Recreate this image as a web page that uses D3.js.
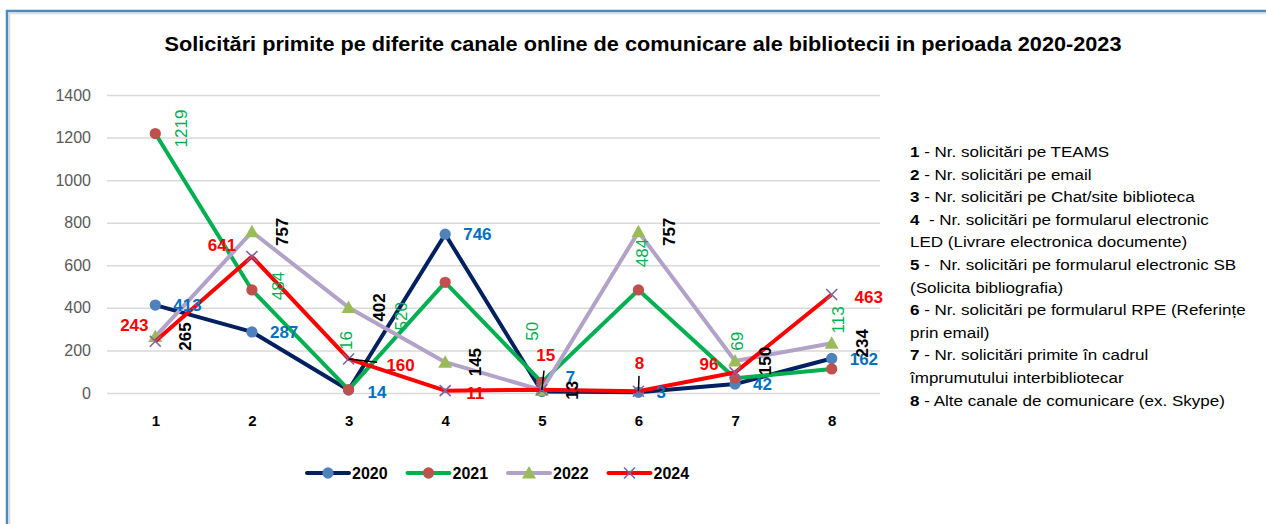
<!DOCTYPE html>
<html>
<head>
<meta charset="utf-8">
<script src="https://cdn.jsdelivr.net/npm/d3@7"></script>
<style>
  body { margin: 0; background: #fff; }
  svg { display: block; }
  text { font-family: 'Liberation Sans', Arial, sans-serif; }
</style>
</head>
<body>
<svg id="chart"></svg>
<script>
// chart data
var categories = ['1', '2', '3', '4', '5', '6', '7', '8'];
var years = ['2020', '2021', '2022', '2024'];
var v2020 = [413, 287, 14, 746, 7, 3, 42, 162];
var v2021 = [1219, 484, 16, 520, 50, 484, 69, 113];
var v2022 = [265, 757, 402, 145, 13, 757, 150, 234];
var v2024 = [243, 641, 160, 11, 15, 8, 96, 463];
var yTicks = [0, 200, 400, 600, 800, 1000, 1200, 1400];

var title = 'Solicitări primite pe diferite canale online de comunicare ale bibliotecii in perioada 2020-2023';
var noteNums = ['1', '2', '3', '4', '', '5', '', '6', '', '7', '', '8'];
var noteTexts = [
  ' - Nr. solicitări pe TEAMS',
  ' - Nr. solicitări pe email',
  ' - Nr. solicitări pe Chat/site biblioteca',
  '  - Nr. solicitări pe formularul electronic',
  'LED (Livrare electronica documente)',
  ' -  Nr. solicitări pe formularul electronic SB',
  '(Solicita bibliografia)',
  ' - Nr. solicitări pe formularul RPE (Referințe',
  'prin email)',
  ' - Nr. solicitări primite în cadrul',
  'împrumutului interbibliotecar',
  ' - Alte canale de comunicare (ex. Skype)'
];

// label nudges (pixels, relative to the point)
var nudge2020 = [[18,0],[18,0],[19,2],[18,0],[24,-15],[18,0],[18,0],[18,0]];
var nudge2021 = [[26,-5],[26,-4],[-3,-49],[-44,34],[-10,-51],[3,-37],[2,-37],[6,-49]];
var nudge2022 = [[30,0],[30,0],[30,0],[30,0],[30,0],[30,0],[30,0],[30,0]];
var nudge2024 = [[-21,-16],[-30,-12],[52,6],[30,2],[4,-35],[1,-28],[-26,-9],[37,2]];
var leader2024 = [0, 0, 1, 0, 1, 1, 0, 0];

var W = 1266, H = 524;
var svg = d3.select('#chart').attr('width', W).attr('height', H);

// frame
svg.append('line').attr('x1', 9).attr('x2', W).attr('y1', 13.5).attr('y2', 13.5)
  .style('stroke', '#dcdcdc').style('stroke-width', 1.5);
svg.append('line').attr('x1', 9.5).attr('x2', 9.5).attr('y1', 13).attr('y2', H)
  .style('stroke', '#dcdcdc').style('stroke-width', 1.5);
svg.append('line').attr('x1', 6).attr('x2', W).attr('y1', 11).attr('y2', 11)
  .style('stroke', '#4d8bbd').style('stroke-width', 2.5);
svg.append('line').attr('x1', 7).attr('x2', 7).attr('y1', 10).attr('y2', H)
  .style('stroke', '#4d8bbd').style('stroke-width', 2.5);

// title, squeezed to the reference width
var tg = svg.append('g');
var tt = tg.append('text').attr('x', 0).attr('y', 0)
  .style('font-size', '20px').style('font-weight', 'bold').style('fill', '#000')
  .attr('text-anchor', 'middle').text(title);
var tw = tt.node().getComputedTextLength();
tg.attr('transform', 'translate(643,51) scale(' + (957 / tw) + ',1)');

// scales
var x = d3.scalePoint().domain(categories).range([107, 880]).padding(0.5);
var y = d3.scaleLinear().domain([0, 1400]).range([393, 95]);

// grid
svg.append('g').attr('class', 'grid')
  .attr('transform', 'translate(107,0)')
  .call(d3.axisLeft(y).tickValues(yTicks).tickSize(-773).tickFormat(''))
  .call(function (g) { g.select('.domain').remove(); })
  .selectAll('line').style('stroke', '#d9d9d9').style('stroke-width', 1.5);

// y axis labels
svg.append('g')
  .attr('transform', 'translate(107,0)')
  .call(d3.axisLeft(y).tickValues(yTicks).tickSize(0).tickPadding(16).tickFormat(d3.format('d')))
  .call(function (g) { g.select('.domain').remove(); })
  .selectAll('text')
  .style('font-family', "'Liberation Sans', Arial, sans-serif")
  .style('font-size', '16px').style('fill', '#595959');

// x axis labels
svg.append('g')
  .attr('transform', 'translate(0,393)')
  .call(d3.axisBottom(x).tickSize(0).tickPadding(0))
  .call(function (g) { g.select('.domain').remove(); })
  .selectAll('text')
  .attr('y', 28).attr('dy', '0.35em')
  .style('font-family', "'Liberation Sans', Arial, sans-serif")
  .style('font-size', '15px').style('font-weight', 'bold').style('fill', '#000');

var series = [
  { name: years[0], values: v2020, line: '#002060', marker: 'circle', mfill: '#4f81bd' },
  { name: years[1], values: v2021, line: '#00b050', marker: 'circle', mfill: '#c0504d' },
  { name: years[2], values: v2022, line: '#b3a2c7', marker: 'triangle', mfill: '#9bbb59' },
  { name: years[3], values: v2024, line: '#ff0000', marker: 'x', mfill: '#8064a2' }
];

function drawMarker(sel, s) {
  if (s.marker === 'circle') {
    sel.append('path').attr('d', d3.symbol().type(d3.symbolCircle).size(100)())
      .style('fill', s.mfill);
  } else if (s.marker === 'triangle') {
    sel.append('path').attr('d', 'M0,-7L7,5.5L-7,5.5Z').style('fill', s.mfill);
  } else {
    sel.append('path').attr('d', 'M-5.5,-5.5L5.5,5.5M-5.5,5.5L5.5,-5.5')
      .style('stroke', s.mfill).style('stroke-width', 1.6).style('fill', 'none');
  }
}

var line = d3.line()
  .x(function (d, i) { return x(categories[i]); })
  .y(function (d) { return y(d); });

series.forEach(function (s) {
  var g = svg.append('g');
  g.append('path').datum(s.values)
    .attr('d', line)
    .style('fill', 'none')
    .style('stroke', s.line)
    .style('stroke-width', 4)
    .style('stroke-linejoin', 'round');
  g.selectAll('g.pt').data(s.values).enter().append('g')
    .attr('class', 'pt')
    .attr('transform', function (d, i) { return 'translate(' + x(categories[i]) + ',' + y(d) + ')'; })
    .each(function () { drawMarker(d3.select(this), s); });
});

// leader lines for moved 2024 labels
var lg = svg.append('g');
v2024.forEach(function (d, i) {
  if (!leader2024[i]) return;
  var px = x(categories[i]), py = y(d);
  lg.append('line')
    .attr('x1', px).attr('y1', py)
    .attr('x2', px + nudge2024[i][0] * 0.55).attr('y2', py + nudge2024[i][1] * 0.55)
    .style('stroke', '#000').style('stroke-width', 1.5);
});

// data labels
function labels(values, nudge, color, weight, rotated, anchor) {
  svg.append('g').selectAll('text').data(values).enter().append('text')
    .attr('transform', function (d, i) {
      var tx = x(categories[i]) + nudge[i][0], ty = y(d) + nudge[i][1];
      return 'translate(' + tx + ',' + ty + ')' + (rotated ? ' rotate(-90)' : '');
    })
    .attr('text-anchor', anchor)
    .attr('dy', '0.36em')
    .style('font-size', '17px')
    .style('font-weight', weight)
    .style('fill', color)
    .text(function (d) { return d; });
}
labels(v2020, nudge2020, '#0070c0', 'bold', false, 'start');
labels(v2021, nudge2021, '#00b050', 'normal', true, 'middle');
labels(v2022, nudge2022, '#000000', 'bold', true, 'middle');
labels(v2024, nudge2024, '#ff0000', 'bold', false, 'middle');

// legend
var legend = svg.append('g');
series.forEach(function (s, i) {
  var lx = 307 + i * 100.5;
  var item = legend.append('g').attr('transform', 'translate(' + lx + ',473)');
  item.append('line').attr('x1', 0).attr('x2', 42).attr('y1', 0).attr('y2', 0)
    .style('stroke', s.line).style('stroke-width', 4).style('stroke-linecap', 'round');
  drawMarker(item.append('g').attr('transform', 'translate(21,0)'), s);
  item.append('text').attr('x', 45).attr('dy', '0.36em')
    .style('font-size', '16px').style('font-weight', 'bold').style('fill', '#000')
    .text(s.name);
});

// explanatory notes on the right
var ng = svg.append('g');
var noteLines = ng.selectAll('text').data(noteTexts).enter().append('text')
  .attr('x', 0)
  .attr('y', function (d, i) { return 157 + i * 22.6; })
  .style('font-size', '15px').style('fill', '#000');
noteLines.append('tspan').style('font-weight', 'bold')
  .text(function (d, i) { return noteNums[i]; });
noteLines.append('tspan').attr('xml:space', 'preserve').style('white-space', 'pre')
  .text(function (d) { return d; });
var longest = d3.max(noteLines.nodes(), function (n) { return n.getComputedTextLength(); });
ng.attr('transform', 'translate(910,0) scale(' + (336 / longest) + ',1)');
</script>
</body>
</html>
